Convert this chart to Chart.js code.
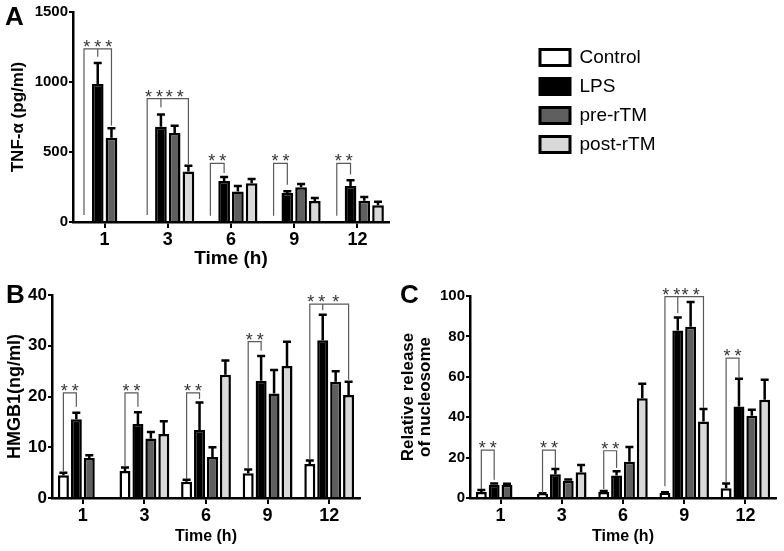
<!DOCTYPE html>
<html>
<head>
<meta charset="utf-8">
<script src="https://cdn.jsdelivr.net/npm/chart.js@4.4.0/dist/chart.umd.min.js"></script>
<style>
  body { margin: 0; background: #fff; }
  #wrap { position: relative; width: 784px; height: 551px; overflow: hidden; }
  canvas { position: absolute; }
</style>
</head>
<body>
<div id="wrap">
  <canvas id="chartA" width="392" height="270" style="left:0;top:0"></canvas>
  <canvas id="chartB" width="392" height="276" style="left:0;top:275px"></canvas>
  <canvas id="chartC" width="392" height="276" style="left:392px;top:275px"></canvas>
  <canvas id="legend" width="240" height="130" style="left:530px;top:38px"></canvas>
</div>
<script>
const times = ['1', '3', '6', '9', '12'];
const groups = ['Control', 'LPS', 'pre-rTM', 'post-rTM'];
const fills = ['#ffffff', '#000000', '#5f5f5f', '#d9d9d9'];

// A: TNF-a (pg/ml) mean / SD
const tnfControl = [null, null, null, null, null];
const tnfLps = [985, 680, 293, 207, 257];
const tnfPre = [602, 636, 217, 248, 152];
const tnfPost = [null, 360, 276, 150, 119];
const tnfControlSd = [null, null, null, null, null];
const tnfLpsSd = [150, 88, 28, 13, 41];
const tnfPreSd = [67, 52, 40, 24, 26];
const tnfPostSd = [null, 42, 31, 22, 26];

// B: HMGB1 (ng/ml)
const hmgControl = [4.5, 5.3, 3.2, 4.9, 6.7];
const hmgLps = [15.5, 14.6, 13.4, 23.1, 31.1];
const hmgPre = [7.9, 11.7, 8.1, 20.6, 22.9];
const hmgPost = [null, 12.6, 24.3, 26.0, 20.3];
const hmgControlSd = [0.5, 0.7, 0.4, 0.7, 0.7];
const hmgLpsSd = [1.3, 2.3, 5.4, 4.9, 5.0];
const hmgPreSd = [0.5, 1.3, 1.9, 4.6, 2.1];
const hmgPostSd = [null, 2.5, 2.8, 4.8, 2.6];

// C: relative release of nucleosome
const nucControl = [3.0, 2.0, 3.0, 2.5, 4.8];
const nucLps = [6.5, 11.7, 11.2, 82.9, 45.3];
const nucPre = [6.5, 8.5, 18.0, 84.8, 40.7];
const nucPost = [null, 12.8, 49.4, 37.9, 48.6];
const nucControlSd = [1.0, 0.3, 0.5, 0.3, 2.4];
const nucLpsSd = [0.7, 2.6, 2.1, 6.4, 13.7];
const nucPreSd = [0.5, 0.7, 7.2, 12.2, 3.0];
const nucPostSd = [null, 3.5, 7.1, 6.1, 10.0];

// significance brackets (cat = time group, a/b/mid = bar slot, y values in data units)
const tnfMarks = [
  { cat: 0, a: 0, b: 2, mid: 1, top: 1236, ya: 50, yb: 690, ym: 1180, stars: [['***', 0, 2]] },
  { cat: 1, a: 0, b: 3, mid: 1, top: 881, ya: 50, yb: 415, ym: 820, stars: [['**', 0, 1], ['**', 1, 3]] },
  { cat: 2, a: 0, b: 1, top: 419, ya: 45, yb: 350, stars: [['**', 0, 1]] },
  { cat: 3, a: 0, b: 1, top: 419, ya: 45, yb: 266, stars: [['**', 0, 1]] },
  { cat: 4, a: 0, b: 1, top: 419, ya: 45, yb: 340, stars: [['**', 0, 1]] }
];
const hmgMarks = [
  { cat: 0, a: 0, b: 1, top: 20.7, ya: 5.2, yb: 18.0, stars: [['**', 0, 1]] },
  { cat: 1, a: 0, b: 1, top: 20.7, ya: 6.1, yb: 18.0, stars: [['**', 0, 1]] },
  { cat: 2, a: 0, b: 1, top: 20.7, ya: 3.8, yb: 19.5, stars: [['**', 0, 1]] },
  { cat: 3, a: 0, b: 1, top: 30.8, ya: 5.8, yb: 29.0, stars: [['**', 0, 1]] },
  { cat: 4, a: 0, b: 3, mid: 1, top: 38.2, ya: 7.6, yb: 23.3, ym: 37.0, stars: [['**', 0, 1], ['*', 1, 3]] }
];
const nucMarks = [
  { cat: 0, a: 0, b: 1, top: 23.7, ya: 4.4, yb: 9.0, stars: [['**', 0, 1]] },
  { cat: 1, a: 0, b: 1, top: 23.7, ya: 2.5, yb: 14.7, stars: [['**', 0, 1]] },
  { cat: 2, a: 0, b: 1, top: 23.4, ya: 4.4, yb: 14.8, stars: [['**', 0, 1]] },
  { cat: 3, a: 0, b: 3, mid: 1, top: 99.7, ya: 5.8, yb: 44.5, ym: 91.4, stars: [['**', 0, 1], ['**', 1, 3]] },
  { cat: 4, a: 0, b: 1, top: 69.2, ya: 7.7, yb: 59.3, stars: [['**', 0, 1]] }
];

Chart.defaults.font.family = '"Liberation Sans", Arial, sans-serif';
Chart.defaults.color = '#000';

// upward-only error bars with cap
const errorBars = {
  id: 'errorBars',
  afterDatasetsDraw(chart) {
    const ctx = chart.ctx, y = chart.scales.y;
    ctx.save();
    ctx.strokeStyle = '#000';
    ctx.lineWidth = 2.5;
    chart.data.datasets.forEach((ds, i) => {
      chart.getDatasetMeta(i).data.forEach((bar, j) => {
        const m = ds.data[j], e = ds.sd[j];
        if (m == null || e == null) return;
        const top = y.getPixelForValue(m + e);
        ctx.beginPath();
        ctx.moveTo(bar.x, bar.y);
        ctx.lineTo(bar.x, top);
        ctx.moveTo(bar.x - 4, top);
        ctx.lineTo(bar.x + 4, top);
        ctx.stroke();
      });
    });
    ctx.restore();
  }
};

const brackets = {
  id: 'brackets',
  afterDatasetsDraw(chart, args, opts) {
    const ctx = chart.ctx, y = chart.scales.y;
    const slotX = (ds, cat) => chart.getDatasetMeta(ds).data[cat].x;
    ctx.save();
    ctx.strokeStyle = '#5a5a5a';
    ctx.lineWidth = 1.2;
    (opts.marks || []).forEach(mk => {
      const xa = slotX(mk.a, mk.cat), xb = slotX(mk.b, mk.cat);
      const yt = y.getPixelForValue(mk.top);
      ctx.beginPath();
      ctx.moveTo(xa, y.getPixelForValue(mk.ya));
      ctx.lineTo(xa, yt);
      ctx.lineTo(xb, yt);
      ctx.lineTo(xb, y.getPixelForValue(mk.yb));
      if (mk.mid != null) {
        const xm = slotX(mk.mid, mk.cat);
        ctx.moveTo(xm, yt);
        ctx.lineTo(xm, y.getPixelForValue(mk.ym));
      }
      ctx.stroke();
      ctx.fillStyle = '#333';
      ctx.font = '18px "Liberation Sans", Arial, sans-serif';
      ctx.textAlign = 'center';
      ctx.textBaseline = 'alphabetic';
      ctx.letterSpacing = '4px';
      mk.stars.forEach(([t, s1, s2]) => {
        const cx = (slotX(s1, mk.cat) + slotX(s2, mk.cat)) / 2;
        ctx.fillText(t, cx + 2, yt + 4);
      });
    });
    ctx.restore();
  }
};

const panelLetter = {
  id: 'panelLetter',
  afterDraw(chart, args, opts) {
    const ctx = chart.ctx;
    ctx.save();
    ctx.fillStyle = '#000';
    ctx.font = 'bold 26px "Liberation Sans", Arial, sans-serif';
    ctx.textAlign = 'left';
    ctx.textBaseline = 'alphabetic';
    ctx.fillText(opts.text, opts.x, opts.y);
    ctx.restore();
  }
};

function makePanel(id, means, sds, cfg) {
  return new Chart(document.getElementById(id), {
    type: 'bar',
    data: {
      labels: times,
      datasets: groups.map((g, i) => ({
        label: g,
        data: means[i],
        sd: sds[i],
        backgroundColor: fills[i],
        borderColor: '#000',
        borderWidth: 2.5,
        categoryPercentage: cfg.catPct,
        barPercentage: 0.85
      }))
    },
    options: {
      responsive: false,
      animation: false,
      layout: { padding: cfg.pad },
      plugins: {
        legend: { display: false },
        tooltip: { enabled: false },
        brackets: { marks: cfg.marks },
        panelLetter: cfg.letter
      },
      scales: {
        x: {
          grid: { offset: false, drawOnChartArea: false, color: '#000', lineWidth: 2, tickLength: 6 },
          border: { color: '#000', width: 2.5 },
          ticks: { font: { size: 18, weight: 'bold' }, color: '#000', padding: 1 },
          title: { display: true, text: 'Time (h)', color: '#000',
                   font: { size: cfg.xTitleSize, weight: 'bold' }, padding: { top: 0, bottom: cfg.xTitlePad } },
          afterFit: s => { s.height = cfg.xHeight; }
        },
        y: {
          min: 0,
          max: cfg.yMax,
          ticks: { stepSize: cfg.yStep, font: { size: cfg.yTickSize, weight: 'bold' }, color: '#000', padding: 1,
                   callback: v => String(v) },
          grid: { drawOnChartArea: false, color: '#000', lineWidth: 2, tickLength: 4 },
          border: { color: '#000', width: 2.5 },
          title: { display: true, text: cfg.yTitle, color: '#000',
                   font: { size: cfg.yTitleSize, weight: 'bold', lineHeight: 1.05 }, padding: { top: cfg.yTitlePad, bottom: 0 } },
          afterFit: s => { s.width = cfg.yWidth; }
        }
      }
    },
    plugins: [errorBars, brackets, panelLetter]
  });
}

makePanel('chartA', [tnfControl, tnfLps, tnfPre, tnfPost], [tnfControlSd, tnfLpsSd, tnfPreSd, tnfPostSd], {
  yMax: 1500, yStep: 500, yTitle: 'TNF-\u03b1 (pg/ml)', yTitleSize: 17, yTitlePad: 9, yTickSize: 15, yWidth: 73,
  xHeight: 48, xTitleSize: 19, xTitlePad: 0, catPct: 0.87,
  pad: { top: 12, right: 3, left: 0, bottom: 0 },
  marks: tnfMarks, letter: { text: 'A', x: 5, y: 25 }
});

makePanel('chartB', [hmgControl, hmgLps, hmgPre, hmgPost], [hmgControlSd, hmgLpsSd, hmgPreSd, hmgPostSd], {
  yMax: 40, yStep: 10, yTitle: 'HMGB1(ng/ml)', yTitleSize: 18, yTitlePad: 6, yTickSize: 17, yWidth: 52,
  xHeight: 53, xTitleSize: 16, xTitlePad: 5, catPct: 0.84,
  pad: { top: 20, right: 32, left: 0, bottom: 0 },
  marks: hmgMarks, letter: { text: 'B', x: 6, y: 28 }
});

makePanel('chartC', [nucControl, nucLps, nucPre, nucPost], [nucControlSd, nucLpsSd, nucPreSd, nucPostSd], {
  yMax: 100, yStep: 20, yTitle: ['Relative release', 'of nucleosome'], yTitleSize: 17, yTitlePad: 7, yTickSize: 15, yWidth: 78,
  xHeight: 53, xTitleSize: 16, xTitlePad: 5, catPct: 0.84,
  pad: { top: 21, right: 8, left: 0, bottom: 0 },
  marks: nucMarks, letter: { text: 'C', x: 8, y: 28 }
});

// legend drawn on its own little chart
new Chart(document.getElementById('legend'), {
  type: 'bar',
  data: {
    labels: [],
    datasets: groups.map((g, i) => ({
      label: g, data: [], backgroundColor: fills[i], borderColor: '#000', borderWidth: 3
    }))
  },
  options: {
    responsive: false,
    animation: false,
    scales: { x: { display: false }, y: { display: false } },
    plugins: {
      tooltip: { enabled: false },
      legend: {
        position: 'left',
        align: 'start',
        maxWidth: 240,
        labels: { boxWidth: 30, boxHeight: 16, padding: 10, font: { size: 19 }, color: '#000' }
      }
    }
  }
});
</script>
</body>
</html>
